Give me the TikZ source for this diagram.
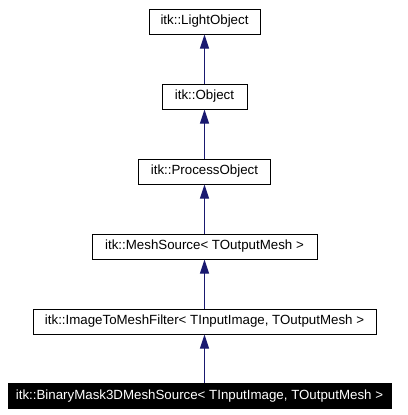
\documentclass[tikz,border=0pt]{standalone}
\usepackage{fontspec}
\setmainfont{Liberation Sans}
\usetikzlibrary{arrows.meta, positioning}
\definecolor{edgeblue}{HTML}{191970}

\begin{document}
\begin{tikzpicture}[x=1pt, y=-1pt,
  classbox/.style={draw=black, line width=1pt, fill=white, minimum height=25pt,
    inner sep=0pt, font=\fontsize{13.3}{16}\selectfont},
  thisbox/.style={classbox, fill=black, text=white},
  inherit/.style={draw=edgeblue, line width=1pt, -{Triangle[width=9pt,length=14pt]}}]
\useasboundingbox (0,0) rectangle (407,415);
% class nodes, top to bottom
\node[classbox, minimum width=111pt] (light) at (204.5,21.5) {itk::LightObject};
\node[classbox, minimum width=85pt] (object) at (204.5,96.5) {itk::Object};
\node[classbox, minimum width=132pt] (process) at (204.5,171.5) {itk::ProcessObject};
\node[classbox, minimum width=225pt] (meshsrc) at (204.5,246.5) {itk::MeshSource< TOutputMesh >};
\node[classbox, minimum width=343pt] (filter) at (204.5,321.5) {itk::ImageToMeshFilter< TInputImage, TOutputMesh >};
\node[thisbox, minimum width=383pt] (binary) at (199.5,396) {itk::BinaryMask3DMeshSource< TInputImage, TOutputMesh >};
% inheritance
\draw[inherit] (object) -- (light);
\draw[inherit] (process) -- (object);
\draw[inherit] (meshsrc) -- (process);
\draw[inherit] (filter) -- (meshsrc);
\draw[inherit] (binary.north -| filter.south) -- (filter.south);
\end{tikzpicture}
\end{document}
